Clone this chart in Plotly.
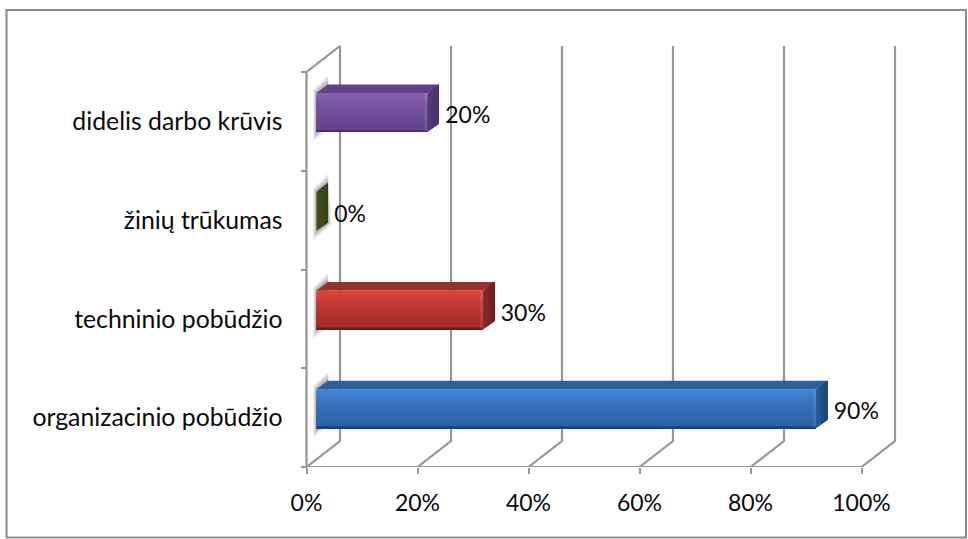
import plotly.graph_objects as go

# ---- data ----
categories = ["organizacinio pobūdžio", "techninio pobūdžio", "žinių trūkumas", "didelis darbo krūvis"]
values = [90, 30, 0, 20]
value_labels = ["90%", "30%", "0%", "20%"]
x_ticks = [0, 20, 40, 60, 80, 100]
x_tick_labels = ["0%", "20%", "40%", "60%", "80%", "100%"]
positions = [0, 1, 2, 3]

# ---- style ----
W, H = 968, 539
X0, PX_X = 306.5, 5.55       # pixel of 0 %, pixels per 1 %
Y_BASE, PX_Y = 467.0, 98.75  # pixel of the baseline, pixels per category
GREY = "#969696"
FONT = "Lato, Carlito, sans-serif"
INK = "#0a0a0a"

top_col = ["#2d5f9b", "#98302d", "#4a5c22", "#5f4287"]
side_col = ["#2a5b98", "#8a2a27", "#3f4f1c", "#523a75"]
grad_hi = ["#3f83d6", "#dc423d", "#5a7029", "#8660b0"]
grad_mid = ["#3a74bc", "#c53a36", "#4f6324", "#7854a1"]
grad_lo = ["#2c62a4", "#a22d2b", "#42531e", "#63458c"]
grad_edge = ["#1a3f73", "#6a1b19", "#333f17", "#46306a"]

dx_wall, dy_wall = 33.5 / PX_X, 26 / PX_Y
bar_base = 10 / PX_X
bar_dx, bar_dy = 11.5 / PX_X, 8.5 / PX_Y
bar_c, bar_h = 9 / PX_Y, 39 / PX_Y
low, high = -0.5, 3.5


def hex2rgb(c):
    return tuple(int(c[i:i + 2], 16) for i in (1, 3, 5))


def mix(a, b, t):
    a, b = hex2rgb(a), hex2rgb(b)
    return "rgb(%d,%d,%d)" % tuple(round(a[i] + (b[i] - a[i]) * t) for i in range(3))


def band_colour(k, t):
    if t < 0.06:
        return mix(grad_hi[k], grad_hi[k], 0)
    if t < 0.3:
        return mix(grad_hi[k], grad_mid[k], (t - 0.06) / 0.24)
    if t < 0.95:
        return mix(grad_mid[k], grad_lo[k], (t - 0.3) / 0.65)
    return grad_edge[k]


def path(points, close=False):
    s = "M " + " L ".join(f"{x},{y}" for x, y in points)
    return s + (" Z" if close else "")


shapes = []
# outer frame
shapes.append(dict(type="rect", xref="paper", yref="paper",
                   x0=6.5 / W, x1=966 / W, y0=(Y_BASE - 537.5) / Y_BASE, y1=(Y_BASE - 10) / Y_BASE,
                   line=dict(color="#8c8c8c", width=2), layer="below"))
# wall gridlines
for v in x_ticks:
    shapes.append(dict(type="path", xref="x", yref="y", layer="below",
                       path=path([(v, low), (v + dx_wall, low + dy_wall), (v + dx_wall, high + dy_wall)]),
                       line=dict(color=GREY, width=2.2)))
# front baseline, side wall
shapes.append(dict(type="path", xref="x", yref="y", layer="below",
                   path=path([(x_ticks[-1], low), (x_ticks[0], low), (x_ticks[0], high),
                              (x_ticks[0] + dx_wall, high + dy_wall)]),
                   line=dict(color=GREY, width=2.2)))
# soft shadows on the wall
for p in positions:
    lo, hi = p + bar_c - bar_h / 2, p + bar_c + bar_h / 2
    for m, alpha in ((10, 0.07), (8, 0.09), (6, 0.12), (4, 0.15), (2, 0.18)):
        mx, my = (m * 0.35) / PX_X, m / PX_Y
        shapes.append(dict(type="path", xref="x", yref="y", layer="below",
                           path=path([(bar_base - mx, lo - my), (bar_base - mx, hi + my * 0.3),
                                      (bar_base + bar_dx, hi + bar_dy + my), (bar_base + bar_dx + mx, lo + bar_dy - my * 0.3)], True),
                           fillcolor=f"rgba(90,90,90,{alpha})", line=dict(width=0)))

fig = go.Figure()

# front faces: nested bands make the vertical gradient without seams
BANDS = 20
for j in range(BANDS):
    t = j / (BANDS - 1)
    fig.add_trace(go.Bar(
        y=positions, x=values, base=bar_base, orientation="h",
        offset=bar_c - bar_h / 2, width=bar_h * (1 - j / BANDS),
        marker=dict(color=[band_colour(k, t) for k in range(4)], line=dict(width=0)),
        hoverinfo="skip", showlegend=False))

# top and side faces
STRIPS = 6
for k, (p, v) in enumerate(zip(positions, values)):
    lo, hi = p + bar_c - bar_h / 2, p + bar_c + bar_h / 2
    x1 = bar_base + v
    if v > 0:
        fig.add_trace(go.Scatter(
            x=[bar_base, x1, x1 + bar_dx, bar_base + bar_dx, bar_base],
            y=[hi, hi, hi + bar_dy, hi + bar_dy, hi],
            mode="lines", fill="toself", fillcolor=top_col[k], line=dict(width=0),
            hoverinfo="skip", showlegend=False))
        # soft bevel at the right end of the front face
        bev = 3 / PX_X
        fig.add_trace(go.Scatter(
            x=[x1 - bev, x1, x1, x1 - bev, x1 - bev],
            y=[lo, lo, hi, hi, lo],
            mode="lines", fill="toself", fillcolor="rgba(255,255,255,0.08)", line=dict(width=0),
            hoverinfo="skip", showlegend=False))
    for s in range(STRIPS):
        a = s / STRIPS
        col = mix(side_col[k], grad_edge[k], a)
        fig.add_trace(go.Scatter(
            x=[x1 + bar_dx * a, x1 + bar_dx, x1 + bar_dx, x1 + bar_dx * a, x1 + bar_dx * a],
            y=[lo + bar_dy * a, lo + bar_dy, hi + bar_dy, hi + bar_dy * a, lo + bar_dy * a],
            mode="lines", fill="toself", fillcolor=col, line=dict(width=0),
            hoverinfo="skip", showlegend=False))

# data labels
fig.add_trace(go.Scatter(
    x=[v + 5.0 for v in values], y=[p + 0.04 for p in positions],
    mode="text", text=value_labels, textposition="middle right",
    textfont=dict(family=FONT, size=23, color=INK),
    hoverinfo="skip", showlegend=False))

fig.update_layout(
    width=W, height=H, margin=dict(l=0, r=0, t=0, b=H - Y_BASE),
    paper_bgcolor="white", plot_bgcolor="white", barmode="overlay",
    showlegend=False, shapes=shapes,
    font=dict(family=FONT, size=23, color=INK),
    xaxis=dict(range=[-X0 / PX_X, (W - X0) / PX_X], tickmode="array", tickvals=x_ticks,
               ticktext=x_tick_labels, ticks="outside", ticklen=6, tickwidth=2, tickcolor=GREY,
               ticklabelstandoff=9, tickfont=dict(size=23),
               showgrid=False, zeroline=False, showline=False, fixedrange=True),
    yaxis=dict(range=[low, low + Y_BASE / PX_Y], tickmode="array", tickvals=positions,
               ticktext=categories, ticks="outside", ticklen=19, tickcolor="rgba(0,0,0,0)",
               tickfont=dict(size=24.8),
               minor=dict(tickmode="array", tickvals=[-0.5, 0.5, 1.5, 2.5, 3.5], ticks="outside",
                          ticklen=6, tickwidth=2, tickcolor=GREY, showgrid=False),
               showgrid=False, zeroline=False, showline=False, fixedrange=True,
               anchor="free", position=X0 / W),
)

fig.write_html("out.html", config=dict(displayModeBar=False),
               post_script="document.body.style.margin='0';")
